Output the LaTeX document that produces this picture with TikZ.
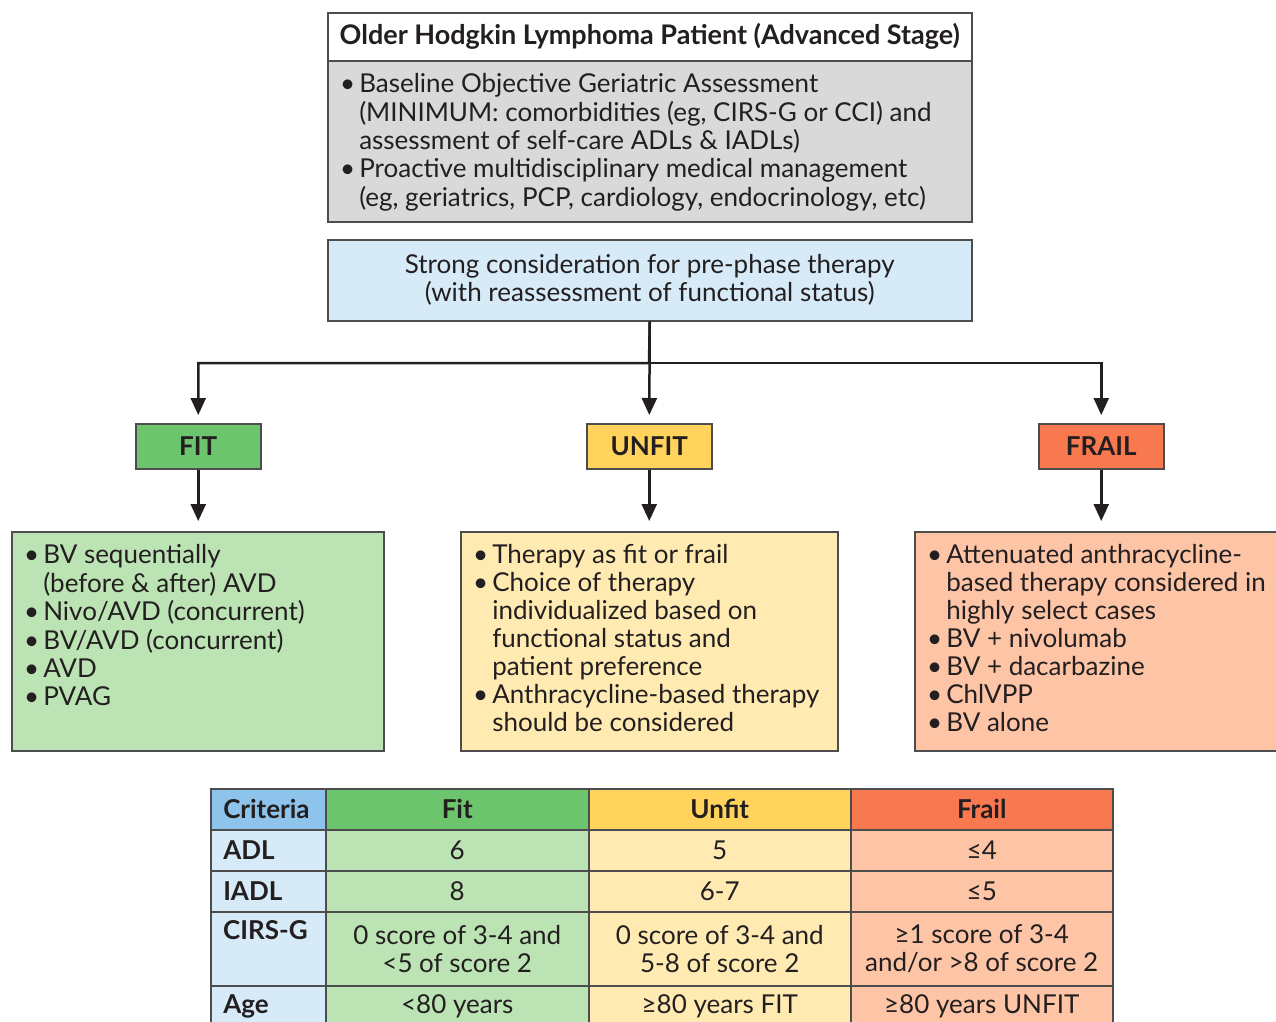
\documentclass[tikz,border=0pt]{standalone}
\usepackage{fontspec}
\setmainfont{Lato}
\usetikzlibrary{arrows.meta,calc}
\definecolor{ink}{HTML}{231F20}
\definecolor{frame}{HTML}{4D4D4D}
\definecolor{graybg}{HTML}{D9D9D9}
\definecolor{bluebg}{HTML}{D6EAF8}
\definecolor{bluehd}{HTML}{8EC4EC}
\definecolor{greenhd}{HTML}{6CC46C}
\definecolor{greenbg}{HTML}{BCE3B4}
\definecolor{yellowhd}{HTML}{FFD35C}
\definecolor{yellowbg}{HTML}{FFEBB2}
\definecolor{redhd}{HTML}{F8784F}
\definecolor{redbg}{HTML}{FDC4A6}
\newcommand{\bul}{\textbullet}
\newcommand{\fs}{\fontsize{26}{28}\selectfont}
\begin{document}
\begin{tikzpicture}[x=1pt,y=-1pt,
  every node/.style={text=ink,font=\fs,inner sep=0pt},
  boxx/.style={draw=frame,line width=1.5pt,anchor=north west},
  lab/.style={boxx,minimum width=125pt,minimum height=45pt,font=\fs\bfseries},
  arr/.style={line width=2.5pt,draw=ink,-{Triangle[length=17pt,width=15pt]}},
  cell/.style={draw=frame,line width=1.5pt,anchor=north west,minimum height=41pt},
  crit/.style={cell,fill=bluebg,minimum width=115pt,text width=90pt,align=left,font=\fs\bfseries},
  txt/.style={anchor=north west,align=left}
]
\useasboundingbox (0,0) rectangle (1276,1021);
\clip (0,0) rectangle (1276,1021);

% top box
\node[boxx,fill=graybg,minimum width=644pt,minimum height=209pt] (top) at (327,12) {};
\node[boxx,fill=white,minimum width=644pt,minimum height=48pt,font=\fontsize{27}{28}\selectfont\bfseries] (title) at (327,12) {Older Hodgkin Lymphoma Patient (Advanced Stage)};
\node[txt] (toptext) at (340,73) {\begin{tabular}{@{}l@{\hspace{4pt}}l@{}}
\bul & Baseline Objective Geriatric Assessment\\
 & (MINIMUM: comorbidities (eg, CIRS-G or CCI) and\\
 & assessment of self-care ADLs \& IADLs)\\
\bul & Proactive multidisciplinary medical management\\
 & (eg, geriatrics, PCP, cardiology, endocrinology, etc)
\end{tabular}};

% blue box
\node[boxx,fill=bluebg,minimum width=644pt,minimum height=81pt,align=center] (pre) at (327,239) {Strong consideration for pre-phase therapy\\(with reassessment of functional status)};

% category labels
\node[lab,fill=greenhd] (fit) at (135,423) {FIT};
\node[lab,fill=yellowhd] (unfit) at (586,423) {UNFIT};
\node[lab,fill=redhd] (frail) at (1038,423) {FRAIL};

\coordinate (split) at (649,363);
\draw[arr,shorten >=8pt] (pre.south) -- (unfit.north);
\draw[arr,shorten >=8pt] (pre.south) -- (split) -| (fit.north);
\draw[arr,shorten >=8pt] (split) -| (frail.north);

% content boxes
\node[boxx,fill=greenbg,minimum width=372pt,minimum height=219pt] (fitbox) at (11,531) {};
\node[boxx,fill=yellowbg,minimum width=377pt,minimum height=219pt] (unfitbox) at (460,531) {};
\node[boxx,fill=redbg,minimum width=380pt,minimum height=219pt] (frailbox) at (914,531) {};

\draw[arr,shorten >=10pt] (fit.south) -- (fit.south |- fitbox.north);
\draw[arr,shorten >=10pt] (unfit.south) -- (unfitbox.north);
\draw[arr,shorten >=10pt] (frail.south) -- (frail.south |- frailbox.north);

\node[txt] (fittext) at (24,544) {\begin{tabular}{@{}l@{\hspace{4pt}}l@{}}
\bul & BV sequentially\\
 & (before \& after) AVD\\
\bul & Nivo/AVD (concurrent)\\
\bul & BV/AVD (concurrent)\\
\bul & AVD\\
\bul & PVAG
\end{tabular}};
\node[txt] (unfittext) at (473,544) {\begin{tabular}{@{}l@{\hspace{4pt}}l@{}}
\bul & Therapy as fit or frail\\
\bul & Choice of therapy\\
 & individualized based on\\
 & functional status and\\
 & patient preference\\
\bul & Anthracycline-based therapy\\
 & should be considered
\end{tabular}};
\node[txt] (frailtext) at (927,544) {\begin{tabular}{@{}l@{\hspace{4pt}}l@{}}
\bul & Attenuated anthracycline-\\
 & based therapy considered in\\
 & highly select cases\\
\bul & BV + nivolumab\\
\bul & BV + dacarbazine\\
\bul & ChlVPP\\
\bul & BV alone
\end{tabular}};

% table
% header row
\node[crit,fill=bluehd] (hcrit) at (210,788) {Criteria};
\node[cell,fill=greenhd,minimum width=263pt,font=\fs\bfseries] (hfit) at (325,788) {Fit};
\node[cell,fill=yellowhd,minimum width=262pt,font=\fs\bfseries] (hunfit) at (588,788) {Unfit};
\node[cell,fill=redhd,minimum width=262pt,font=\fs\bfseries] (hfrail) at (850,788) {Frail};
% ADL
\node[crit] (adl) at (210,829) {ADL};
\node[cell,fill=greenbg,minimum width=263pt] (adlfit) at (325,829) {6};
\node[cell,fill=yellowbg,minimum width=262pt] (adlunfit) at (588,829) {5};
\node[cell,fill=redbg,minimum width=262pt] (adlfrail) at (850,829) {≤4};
% IADL
\node[crit] (iadl) at (210,870) {IADL};
\node[cell,fill=greenbg,minimum width=263pt] (iadlfit) at (325,870) {8};
\node[cell,fill=yellowbg,minimum width=262pt] (iadlunfit) at (588,870) {6-7};
\node[cell,fill=redbg,minimum width=262pt] (iadlfrail) at (850,870) {≤5};
% CIRS-G
\node[cell,fill=bluebg,minimum width=115pt,minimum height=74pt] (cirs) at (210,911) {};
\node[anchor=north west,font=\fs\bfseries] (cirslab) at (223,920) {CIRS-G};
\node[cell,fill=greenbg,minimum width=263pt,minimum height=74pt,align=center] (cirsfit) at (325,911) {0 score of 3-4 and\\<5 of score 2};
\node[cell,fill=yellowbg,minimum width=262pt,minimum height=74pt,align=center] (cirsunfit) at (588,911) {0 score of 3-4 and\\5-8 of score 2};
\node[cell,fill=redbg,minimum width=262pt,minimum height=74pt,align=center] (cirsfrail) at (850,911) {≥1 score of 3-4\\and/or >8 of score 2};
% Age
\node[crit] (age) at (210,985) {Age};
\node[cell,fill=greenbg,minimum width=263pt] (agefit) at (325,985) {<80 years};
\node[cell,fill=yellowbg,minimum width=262pt] (ageunfit) at (588,985) {≥80 years FIT};
\node[cell,fill=redbg,minimum width=262pt] (agefrail) at (850,985) {≥80 years UNFIT};
\end{tikzpicture}
\end{document}
